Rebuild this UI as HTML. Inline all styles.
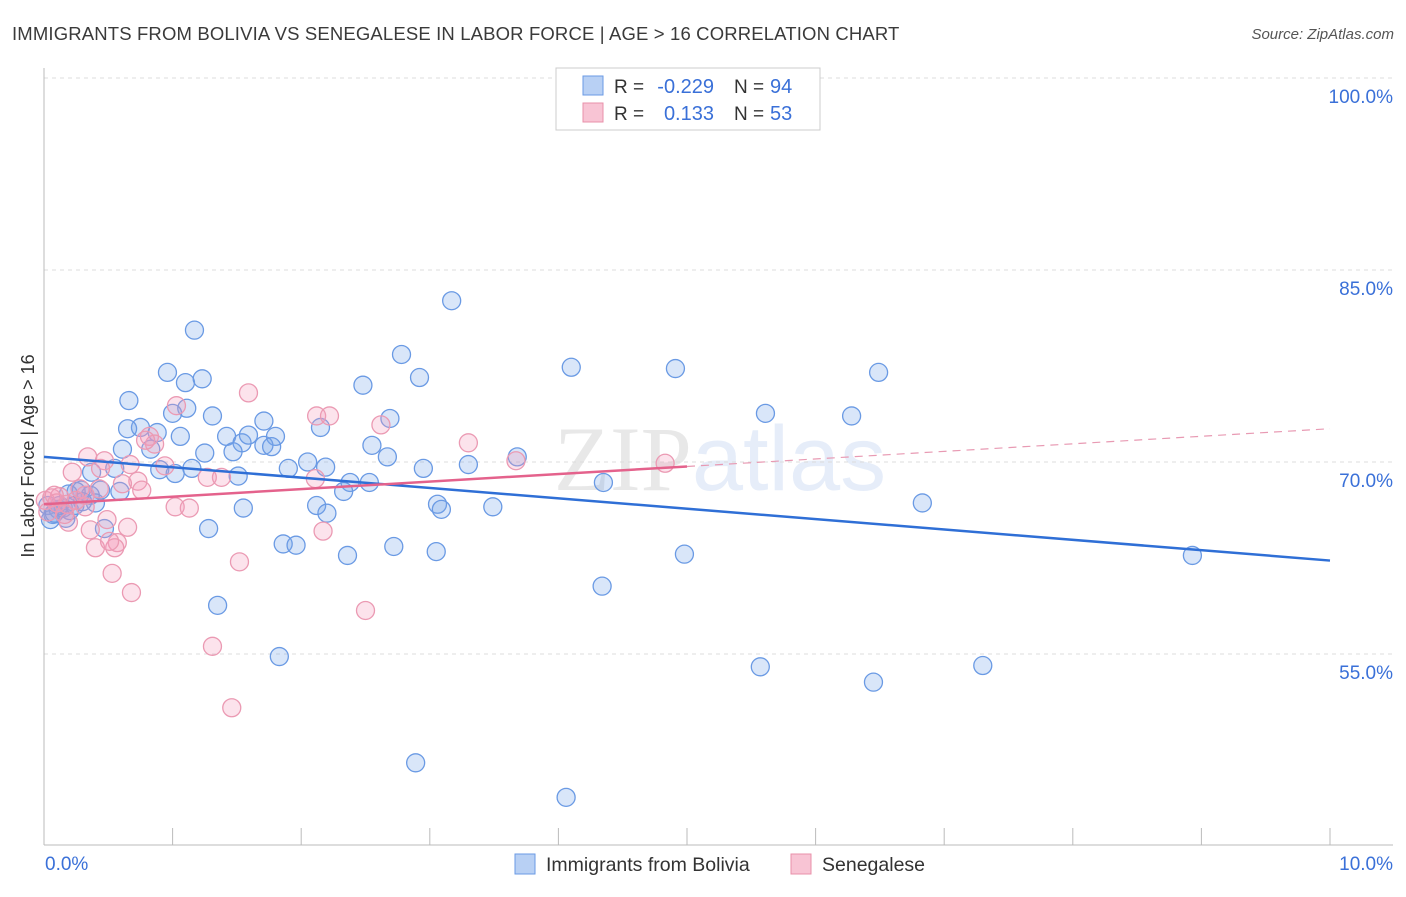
<!DOCTYPE html>
<html><head><meta charset="utf-8"><style>
body{margin:0;background:#fff;font-family:"Liberation Sans",sans-serif;}
svg text{font-family:"Liberation Sans",sans-serif;}
</style></head><body>
<svg id="chart" width="1406" height="892" viewBox="0 0 1406 892" xmlns="http://www.w3.org/2000/svg">
<text x="12" y="40" font-size="18.5" letter-spacing="0.15" fill="#3a3a3a">IMMIGRANTS FROM BOLIVIA VS SENEGALESE IN LABOR FORCE | AGE &gt; 16 CORRELATION CHART</text>
<text x="1394" y="39" font-size="15" fill="#555" font-style="italic" text-anchor="end">Source: ZipAtlas.com</text>
<g font-size="92" text-anchor="middle" opacity="0.22"><text x="720" y="490"><tspan fill="#999" font-family="Liberation Serif">ZIP</tspan><tspan fill="#8fb0e8">atlas</tspan></text></g>
<g id="grid"></g>
<g id="axes"></g>
<g id="marks"></g>
<text transform="translate(34,456) rotate(-90)" font-size="18" fill="#333" text-anchor="middle">In Labor Force | Age &gt; 16</text>
<g>
<rect x="556" y="68" width="264" height="62" fill="#fff" stroke="#ccc"/>
<rect x="583" y="76" width="20" height="19" fill="#b8d0f4" stroke="#6a9ae4"/>
<text x="614" y="93" font-size="19" fill="#333">R =</text>
<text x="714" y="93" font-size="20" fill="#3a70d8" text-anchor="end">-0.229</text>
<text x="734" y="93" font-size="19" fill="#333">N =</text>
<text x="770" y="93" font-size="20" fill="#3a70d8">94</text>
<rect x="583" y="103" width="20" height="19" fill="#f8c4d4" stroke="#e890aa"/>
<text x="614" y="120" font-size="19" fill="#333">R =</text>
<text x="714" y="120" font-size="20" fill="#3a70d8" text-anchor="end">0.133</text>
<text x="734" y="120" font-size="19" fill="#333">N =</text>
<text x="770" y="120" font-size="20" fill="#3a70d8">53</text>
</g>
<g>
<rect x="515" y="854" width="20" height="20" fill="#b8d0f4" stroke="#6a9ae4"/>
<text x="546" y="871" font-size="19.5" fill="#333">Immigrants from Bolivia</text>
<rect x="791" y="854" width="20" height="20" fill="#f8c4d4" stroke="#e890aa"/>
<text x="822" y="871" font-size="19.5" fill="#333">Senegalese</text>
</g>
</svg>
<script>
const xTickLabels = ["0.0%", "10.0%"];
const yTicks = [55, 70, 85, 100];
const yTickLabels = ["55.0%", "70.0%", "85.0%", "100.0%"];
const boliviaX = [1.17,3.17,2.78,2.92,0.96,1.10,1.23,0.66,1.11,1.00,1.31,2.48,4.10,4.91,6.49,5.61,6.28,2.69,1.71,2.15,0.75,0.65,0.88,1.06,1.42,1.54,1.59,1.80,1.71,1.77,2.55,0.83,0.61,1.25,1.47,2.67,3.68,3.30,2.95,2.05,2.19,1.90,0.90,1.15,1.02,1.51,2.38,2.53,0.55,0.37,2.33,0.29,0.59,0.44,0.36,0.25,0.19,0.40,4.35,3.06,3.09,3.49,2.12,2.20,1.55,6.83,0.47,1.28,0.03,0.07,0.11,0.15,0.17,0.05,1.86,1.96,2.36,2.72,3.05,4.98,8.93,4.34,1.35,1.83,5.57,6.45,7.30,2.89,4.06,0.12,0.20,0.24,0.30,0.08];
const boliviaY = [80.3,82.6,78.4,76.6,77.0,76.2,76.5,74.8,74.2,73.8,73.6,76.0,77.4,77.3,77.0,73.8,73.6,73.4,73.2,72.7,72.7,72.6,72.3,72.0,72.0,71.5,72.1,72.0,71.3,71.2,71.3,71.0,71.0,70.7,70.8,70.4,70.4,69.8,69.5,70.0,69.6,69.5,69.4,69.5,69.1,68.9,68.4,68.4,69.5,69.2,67.7,67.8,67.7,67.8,67.4,67.7,67.5,66.8,68.4,66.7,66.3,66.5,66.6,66.0,66.4,66.8,64.8,64.8,66.6,65.9,66.3,66.4,65.6,65.5,63.6,63.5,62.7,63.4,63.0,62.8,62.7,60.3,58.8,54.8,54.0,52.8,54.1,46.5,43.8,66.6,66.2,66.6,66.9,66.0];
const senegalX = [1.59,1.03,2.12,2.62,3.30,0.82,0.86,0.79,3.67,4.83,0.34,0.47,0.67,0.94,0.22,0.44,0.73,0.76,0.61,1.27,1.38,2.11,0.43,0.28,0.12,0.06,0.01,0.10,0.18,0.32,1.02,1.13,0.36,0.65,0.19,0.40,0.57,0.55,0.51,2.17,0.53,0.68,1.52,2.50,1.31,1.46,0.08,0.16,0.03,0.25,0.49,0.32,2.22];
const senegalY = [75.4,74.4,73.6,72.9,71.5,72.0,71.4,71.7,70.1,69.9,70.4,70.1,69.8,69.7,69.2,69.5,68.5,67.8,68.3,68.8,68.8,68.7,67.9,67.9,67.3,67.2,67.0,66.8,66.7,66.5,66.5,66.4,64.7,64.9,65.3,63.3,63.7,63.3,63.8,64.6,61.3,59.8,62.2,58.4,55.6,50.8,67.4,65.9,66.1,67.0,65.5,67.4,73.6];
const boliviaTrend = [70.4, 62.3];
const senegalTrend = [66.7, 72.6];
const senegalSolidEnd = 5.0;

const NS="http://www.w3.org/2000/svg";
const X0=44, X1=1330, Y0=845;
const sx = v => X0 + v/10*(X1-X0);
const sy = v => 78 + (100-v)*12.8;
function mk(tag, attrs, parent){const e=document.createElementNS(NS,tag);for(const k in attrs)e.setAttribute(k,attrs[k]);parent.appendChild(e);return e;}
const grid=document.getElementById('grid'), axes=document.getElementById('axes'), marks=document.getElementById('marks');

yTicks.forEach((t,i)=>{
  const l=mk('line',{x1:X0,x2:1393,y1:sy(t),y2:sy(t),stroke:'#dcdcdc','stroke-dasharray':'4,4'},grid);
  
  
  const tx=mk('text',{x:1393,y:sy(t)+25,'font-size':19,fill:'#3a70d8','text-anchor':'end'},axes);
  tx.textContent=yTickLabels[i];
  
  
});
const ax=mk('line',{x1:X0,x2:X0,y1:68,y2:Y0,stroke:'#bbb'},axes);


const bx=mk('line',{x1:X0,x2:1393,y1:Y0,y2:Y0,stroke:'#bbb'},axes);


for(let i=0;i<=10;i++){
  const t=mk('line',{x1:sx(i),x2:sx(i),y1:828,y2:Y0,stroke:'#bbb'},axes);
  
  
}
const xl0=mk('text',{x:45,y:870,'font-size':19,fill:'#3a70d8'},axes);xl0.textContent=xTickLabels[0];


const xl1=mk('text',{x:1393,y:870,'font-size':19,fill:'#3a70d8','text-anchor':'end'},axes);xl1.textContent=xTickLabels[1];



boliviaX.forEach((x,i)=>{
  const c=mk('circle',{cx:sx(x),cy:sy(boliviaY[i]),r:9,fill:'rgba(120,165,235,0.28)',stroke:'#6a9ae4','stroke-width':1.3},marks);
  
  
});
senegalX.forEach((x,i)=>{
  const c=mk('circle',{cx:sx(x),cy:sy(senegalY[i]),r:9,fill:'rgba(245,155,185,0.28)',stroke:'#eb9ab3','stroke-width':1.3},marks);
  
  
});
const bt=mk('line',{x1:sx(0),y1:sy(boliviaTrend[0]),x2:sx(10),y2:sy(boliviaTrend[1]),stroke:'#2f6fd6','stroke-width':2.5},marks);


const midY=senegalTrend[0]+(senegalTrend[1]-senegalTrend[0])*senegalSolidEnd/10;
const st=mk('line',{x1:sx(0),y1:sy(senegalTrend[0]),x2:sx(senegalSolidEnd),y2:sy(midY),stroke:'#e4628c','stroke-width':2.5},marks);


const sd=mk('line',{x1:sx(senegalSolidEnd),y1:sy(midY),x2:sx(10),y2:sy(senegalTrend[1]),stroke:'#e89ab3','stroke-width':1.2,'stroke-dasharray':'8,6'},marks);


</script>
</body></html>
